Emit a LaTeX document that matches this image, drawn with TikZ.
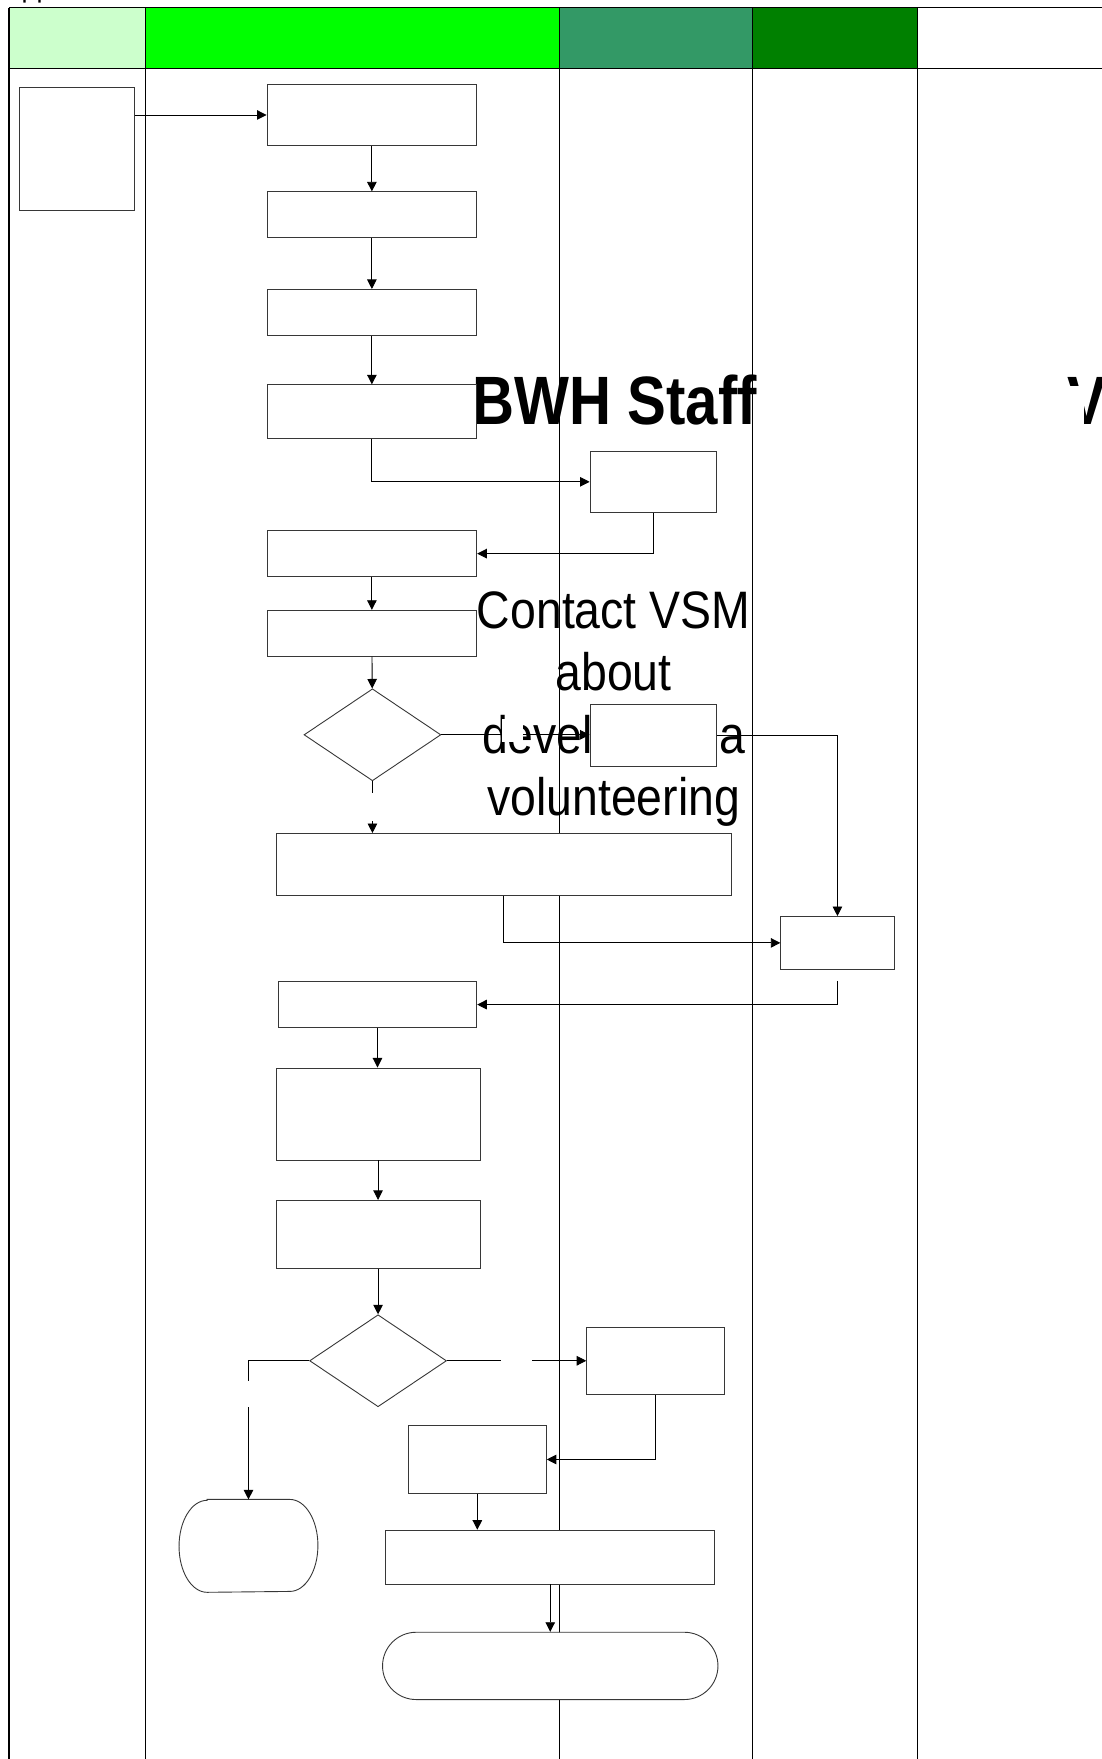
\documentclass[tikz,border=0pt]{standalone}
\usepackage{fontspec}
\setmainfont{Liberation Sans}
\usetikzlibrary{arrows.meta,positioning,calc,shapes.geometric,shapes.misc}
\definecolor{lanepale}{HTML}{CCFFCC}
\definecolor{lanelime}{HTML}{00FF00}
\definecolor{lanesea}{HTML}{339966}
\definecolor{lanegreen}{HTML}{008000}
\definecolor{boxline}{RGB}{55,55,55}
\newcommand{\narrowtxt}[2]{\scalebox{#1}[1]{#2}}

\begin{document}
\begin{tikzpicture}[x=1pt, y=-1pt,
    lanerule/.style={line width=1.1pt},
    procbox/.style={draw=boxline, fill=white, line width=0.8pt, inner sep=0pt},
    decbox/.style={diamond, draw=boxline, fill=white, line width=0.8pt, inner sep=0pt,
                   minimum width=122pt, minimum height=82pt},
    termbox/.style={rounded rectangle, draw=boxline, fill=white, line width=0.8pt, inner sep=0pt},
    flow/.style={-{Triangle[length=8.5pt,width=8.5pt]}, line width=0.8pt},
    gapmark/.style={fill=white, inner sep=0pt},
    lanehead/.style={font=\fontsize{61}{61}\selectfont\bfseries, inner sep=0pt},
    bignote/.style={font=\fontsize{47}{55.7}\selectfont, align=center, inner sep=0pt}]
  \useasboundingbox (0,0) rectangle (982,1568);

  % swimlane header and lane rules
  \foreach \xa/\xb/\col in {8/130/lanepale, 130/499/lanelime, 499/671/lanesea, 671/818/lanegreen}
    \fill[\col] (\xa,7) rectangle (\xb,61);
  \draw[lanerule] (8,7) -- (995,7);
  \draw[lanerule] (8,61) -- (995,61);
  \foreach \x in {8,130,499,671,818}
    \draw[lanerule] (\x,7) -- (\x,1575);

  % stray texts
  \node[anchor=base west, inner sep=0pt, font=\fontsize{24}{24}\selectfont] (ttl) at (19,-2) {pp};
  \node[lanehead, anchor=base] (bwh) at (548,378) {\narrowtxt{0.85}{BWH Staff}};
  \node[lanehead, anchor=base west] (vhead) at (951,378) {\narrowtxt{0.85}{V}};
  \node[gapmark, minimum width=18pt, minimum height=34pt] (vcover) at (957,361) {};
  \node[bignote, anchor=base] (contact) at (547,727)
    {\narrowtxt{0.88}{Contact VSM}\\\narrowtxt{0.88}{about}\\
     \narrowtxt{0.88}{developing a}\\\narrowtxt{0.88}{volunteering}};

  % process boxes
  \node[procbox, minimum width=103pt, minimum height=110pt] (src) at (68.5,133) {};
  \node[procbox, minimum width=187pt, minimum height=55pt] (a) at (331.5,102.5) {};
  \node[procbox, minimum width=187pt, minimum height=41pt] (b) at (331.5,191.5) {};
  \node[procbox, minimum width=187pt, minimum height=41pt] (c) at (331.5,278.5) {};
  \node[procbox, minimum width=187pt, minimum height=48pt] (d) at (331.5,367) {};
  \node[procbox, minimum width=113pt, minimum height=55pt] (e) at (582.5,429.5) {};
  \node[procbox, minimum width=187pt, minimum height=41pt] (f) at (331.5,493.5) {};
  \node[procbox, minimum width=187pt, minimum height=41pt] (g) at (331.5,564.5) {};
  \node[decbox] (dec1) at (332,655) {};
  \node[procbox, minimum width=113pt, minimum height=55pt] (h) at (582.5,655.5) {};
  \node[procbox, minimum width=406pt, minimum height=55pt] (i) at (449,770.5) {};
  \node[procbox, minimum width=101pt, minimum height=47pt] (j) at (746.5,840.5) {};
  \node[procbox, minimum width=177pt, minimum height=41pt] (k) at (336.5,895.5) {};
  \node[procbox, minimum width=182pt, minimum height=82pt] (l) at (337,993) {};
  \node[procbox, minimum width=182pt, minimum height=61pt] (m) at (337,1100.5) {};
  \node[decbox] (dec2) at (337,1213) {};
  \node[procbox, minimum width=123pt, minimum height=60pt] (n) at (584.5,1213) {};
  \node[procbox, minimum width=123pt, minimum height=60pt] (o) at (425.5,1301) {};
  \node[procbox, draw=none, minimum width=123pt, minimum height=82pt] (p) at (221.5,1378) {};
  \draw[boxline, line width=0.8pt] ($(p.north west)+(25,0)$) -- ($(p.north east)+(-25,0)$)
    arc[start angle=90, end angle=-90, x radius=25pt, y radius=41pt]
    -- ($(p.south west)+(25,0)$)
    arc[start angle=270, end angle=90, x radius=25pt, y radius=41pt] -- cycle;
  \node[procbox, minimum width=293pt, minimum height=48pt] (q) at (490.5,1388) {};
  \node[termbox, minimum width=299pt, minimum height=60pt] (r) at (490.5,1485) {};

  % connectors
  \draw[flow] (a.west -| src.east) -- (a.west);
  \draw[flow] (a) -- (b);
  \draw[flow] (b) -- (c);
  \draw[flow] (c) -- (d);
  \draw[flow] (d.south) |- (e.west);
  \draw[flow] (e.south) |- (f.east);
  \draw[flow] (f) -- (g);
  \draw[flow] (g) -- (dec1);
  \draw[flow] (dec1.east) -- node[gapmark, pos=0.48, yshift=4pt, minimum width=18pt, minimum height=21pt] (gapa) {} (dec1.east -| h.west);
  \draw[flow] (h.east) -| (j.north);
  \draw[flow] (dec1.south) -- node[gapmark, minimum width=8pt, minimum height=25pt] (gapb) {} (dec1.south |- i.north);
  \draw[flow] (i.south) |- (j.west);
  \draw[flow, shorten <=10pt] (j.south) |- (k.east);
  \draw[flow] (k.south) -- (k.south |- l.north);
  \draw[flow] (l) -- (m);
  \draw[flow] (m) -- (dec2);
  \draw[flow] (dec2.east) -- node[gapmark, minimum width=28pt, minimum height=8pt] (gapc) {} (n.west);
  \draw[flow] (dec2.west) -| node[gapmark, pos=0.62, minimum width=8pt, minimum height=23pt] (gapd) {} (p.north);
  \draw[flow] (n.south) |- (o.east);
  \draw[flow] (o.south) -- (o.south |- q.north);
  \draw[flow] (q) -- (r);
\end{tikzpicture}
\end{document}
